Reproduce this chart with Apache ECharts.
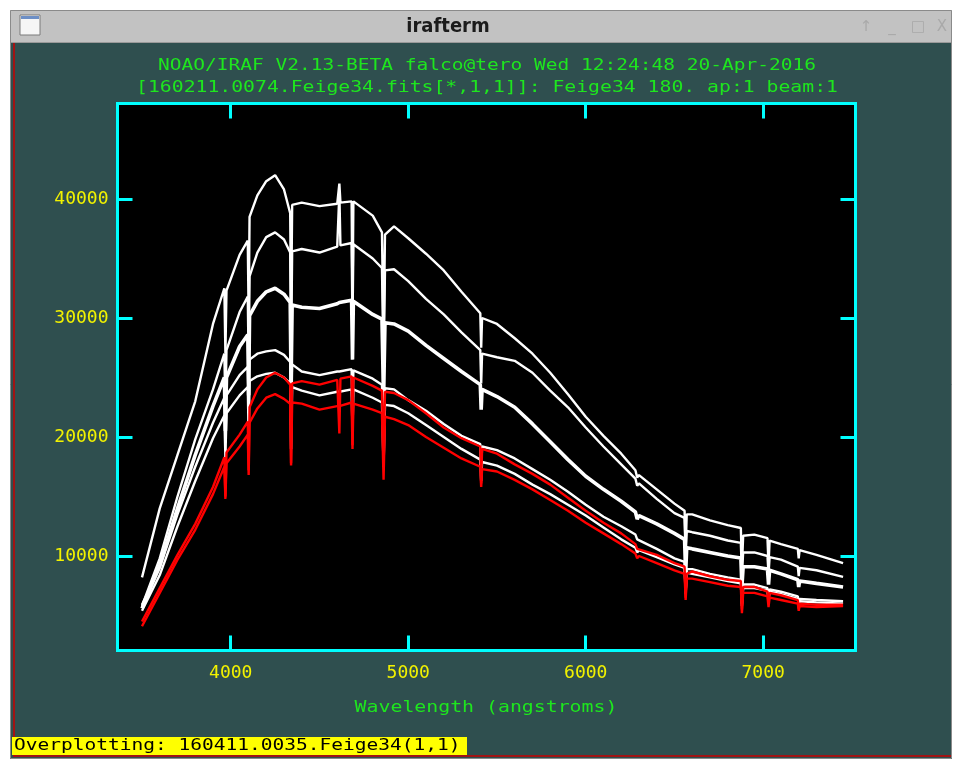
<!DOCTYPE html>
<html><head><meta charset="utf-8">
<script src="https://cdn.jsdelivr.net/npm/echarts@6/dist/echarts.min.js"></script>
<style>html,body{margin:0;padding:0;background:#ffffff}#c{width:956px;height:759px}</style>
</head><body><div id="c"></div>
<script>
// Wavelength grid (angstroms)
const wavelengths = [
3500,3600,3700,3800,3900,3964,3970,3976,4050,4096,
4101,4106,4150,4200,4250,4300,4335,4340,4346,4400,
4500,4600,4612,4618,4681,4686,4691,4800,4852,4861,
4869,4920,5000,5100,5200,5300,5406,5411,5416,5500,
5600,5700,5800,5900,6000,6100,6200,6280,6290,6300,
6400,6500,6557,6563,6569,6600,6700,6800,6874,6880,
6887,6950,7024,7030,7036,7100,7195,7200,7205,7300,
7450];
// White spectra (top to bottom)
const fluxW1 = [
8200,14000,18500,23000,29500,32500,27000,32300,35300,36500,
30000,38500,40300,41500,42000,40800,38800,30000,39500,39700,
39400,39600,41300,39700,39800,31000,39800,38600,37200,28000,
37000,37700,36700,35400,34000,32200,30400,27500,30000,29500,
28300,27000,25400,23600,21700,20100,18600,17200,16600,16800,
15600,14400,13800,10500,13500,13500,13000,12600,12350,9000,
11700,11800,11500,9200,11300,11000,10600,9800,10500,10100,
9400];
const fluxW2 = [
5800,9800,15000,19800,24000,27000,22500,27300,30500,31800,
26000,33500,35500,36800,37200,36600,35500,27000,35600,35800,
35500,36000,40500,36100,36300,29500,36200,35000,34200,26000,
34000,34100,33100,31600,30300,28800,27300,24500,27000,26700,
26400,25400,23900,22500,20800,19200,17700,16500,15900,16100,
14800,13600,13200,10000,12100,12000,11700,11300,11100,8500,
10300,10300,10000,8500,9900,9700,9100,8300,9000,8800,
8250];
const fluxW3 = [
5600,9200,14000,18500,22600,25000,20500,25000,27600,28600,
23500,30200,31400,32200,32500,32000,31300,24500,31100,30900,
30800,31200,31300,31300,31500,26500,31400,30300,29900,23000,
29600,29500,28900,27700,26600,25500,24400,22300,24000,23400,
22500,21100,19600,18100,16700,15600,14600,13700,13100,13400,
12700,11900,11400,8500,10700,10600,10300,10000,9830,7400,
9100,9100,8900,7600,8800,8500,8000,7400,7900,7700,
7400];
const fluxW4 = [
5900,9000,13500,17500,21200,23300,19500,23500,25200,25900,
22000,26500,27000,27200,27300,26900,26300,21000,26100,25500,
25200,25500,25500,25600,25700,22000,25600,24900,24400,19500,
24100,24000,23100,22200,21100,20100,19400,17000,19200,18900,
18200,17300,16400,15400,14300,13300,12500,11800,11400,11500,
10600,9800,9500,6900,8900,8900,8500,8200,8000,6000,
7600,7600,7300,6500,7200,7000,6600,6000,6400,6300,
6200];
const fluxW5 = [
5400,8400,12500,16300,19900,21800,18300,22000,23500,24200,
20000,24700,25100,25300,25400,25000,24500,19000,24200,23900,
23500,23800,23800,23900,24000,20500,24000,23300,22900,17500,
22700,22600,22000,21000,20000,19000,18100,16300,17900,17600,
16900,16000,15200,14300,13400,12400,11400,10700,10300,10500,
9900,9300,9000,6800,8600,8500,8200,7900,7700,5800,
7300,7300,7100,6300,7000,6800,6400,5900,6200,6100,
6000];
// Red (overplotted) spectra
const fluxR1 = [
4500,7300,10100,12700,15800,18300,15000,18700,20200,21300,
17200,22500,24000,25000,25400,25000,24400,17800,24500,24700,
24400,24800,20300,24900,25100,19300,25000,24300,23900,17500,
23800,23700,23100,22000,20800,19900,19200,16100,19000,18600,
17700,16900,16000,14900,13800,12800,11900,11000,10600,10700,
10100,9400,9100,6500,8500,8700,8300,8000,7900,5500,
7400,7400,7000,6000,6900,6700,6300,5600,6000,5900,
5900];
const fluxR2 = [
4100,6900,9700,12200,15200,17500,14800,17800,19200,20200,
16800,21200,22400,23300,23600,23200,22800,17600,22900,22800,
22300,22600,22600,22700,22900,19000,22800,22300,22000,16400,
21700,21500,21000,20000,19100,18200,17500,15800,17300,17100,
16400,15600,14700,13800,12800,11900,11000,10200,9800,10000,
9400,8800,8500,6300,8100,8100,7800,7500,7400,5200,
6900,6900,6600,5700,6500,6300,6000,5400,5800,5700,
5800];

const xTicks = [4000,5000,6000,7000];
const yTicks = [10000,20000,30000,40000];
const windowTitle = 'irafterm';
const titleLine1 = 'NOAO/IRAF V2.13-BETA falco@tero Wed 12:24:48 20-Apr-2016';
const titleLine2 = '[160211.0074.Feige34.fits[*,1,1]]: Feige34 180. ap:1 beam:1';
const xAxisTitle = 'Wavelength (angstroms)';
const statusText = 'Overplotting: 160411.0035.Feige34(1,1)';

const spectra = [
  {name:'W1', flux:fluxW1, color:'#ffffff', width:2.4},
  {name:'W2', flux:fluxW2, color:'#ffffff', width:2.4},
  {name:'W3', flux:fluxW3, color:'#ffffff', width:3.6},
  {name:'W4', flux:fluxW4, color:'#ffffff', width:2.4},
  {name:'W5', flux:fluxW5, color:'#ffffff', width:2.4},
  {name:'R1', flux:fluxR1, color:'#ff0000', width:2.4},
  {name:'R2', flux:fluxR2, color:'#ff0000', width:2.4}
];

const chart = echarts.init(document.getElementById('c'), null, {renderer:'canvas'});
const mono = '"DejaVu Sans Mono", monospace';
const CYAN = '#00ffff';
const tickStyle = (vals) => ({show:true, inside:true, length:15, customValues:vals, lineStyle:{color:CYAN, width:3}});
const XMIN = 3362, XMAX = 7520, YMIN = 2059, YMAX = 48025;
const plain = v => String(Math.round(v));

const option = {
  animation:false,
  backgroundColor:'#2f4f4f',
  grid:{left:117.5, top:103.5, width:738, height:547, show:true, backgroundColor:'#000000', borderColor:CYAN, borderWidth:3, containLabel:false},
  xAxis:[
    {type:'value', position:'bottom', min:XMIN, max:XMAX, axisLine:{show:false}, splitLine:{show:false},
     axisTick:tickStyle(xTicks),
     axisLabel:{show:true, customValues:xTicks, formatter:plain, margin:14, color:'#f2f200', fontFamily:'DejaVu Sans Mono', fontSize:18}},
    {type:'value', position:'top', min:XMIN, max:XMAX, axisLine:{show:false}, splitLine:{show:false},
     axisTick:tickStyle(xTicks), axisLabel:{show:false}}
  ],
  yAxis:[
    {type:'value', position:'left', min:YMIN, max:YMAX, axisLine:{show:false}, splitLine:{show:false},
     axisTick:tickStyle(yTicks),
     axisLabel:{show:true, customValues:yTicks, formatter:plain, margin:9, color:'#f2f200', fontFamily:'DejaVu Sans Mono', fontSize:18}},
    {type:'value', position:'right', min:YMIN, max:YMAX, axisLine:{show:false}, splitLine:{show:false},
     axisTick:tickStyle(yTicks), axisLabel:{show:false}}
  ],
  series: spectra.map(s => ({
    name:s.name, type:'line', xAxisIndex:0, yAxisIndex:0, showSymbol:false, symbol:'none',
    data: wavelengths.map((w,i)=>[w, s.flux[i]]),
    lineStyle:{color:s.color, width:s.width}, itemStyle:{color:s.color}, clip:true, z:3
  })),
  graphic:[
    {type:'rect', shape:{x:0,y:0,width:956,height:10}, style:{fill:'#ffffff'}, silent:true},
    {type:'rect', shape:{x:0,y:0,width:10,height:759}, style:{fill:'#ffffff'}, silent:true},
    {type:'rect', shape:{x:952,y:0,width:4,height:759}, style:{fill:'#ffffff'}, silent:true},
    {type:'rect', shape:{x:10,y:10,width:942,height:33}, style:{fill:'#c2c2c2'}, silent:true},
    {type:'line', shape:{x1:10,y1:42.5,x2:952,y2:42.5}, style:{stroke:'#9a9a9a', lineWidth:1}, silent:true},
    {type:'rect', shape:{x:10.5,y:10.5,width:941,height:748}, style:{fill:null, stroke:'#8a8a8a', lineWidth:1}, silent:true},
    {type:'line', shape:{x1:14,y1:43,x2:14,y2:757}, style:{stroke:'#c80000', lineWidth:1.5}, silent:true},
    {type:'line', shape:{x1:14,y1:756,x2:951,y2:756}, style:{stroke:'#c80000', lineWidth:1.5}, silent:true},
    {type:'rect', shape:{x:20,y:15,width:20,height:20}, style:{fill:'#f6f6f6', stroke:'#7a7a7a', lineWidth:1}, silent:true},
    {type:'rect', shape:{x:21,y:16,width:18,height:3}, style:{fill:'#6d8fc6'}, silent:true},
    {type:'text', x:448, y:27, style:{text:windowTitle, font:'bold 20px "DejaVu Sans Condensed", "DejaVu Sans"', fill:'#1c1c1c', align:'center', verticalAlign:'middle'}, silent:true},
    {type:'text', x:866, y:27, style:{text:'↑', font:'15px "DejaVu Sans"', fill:'#a9a9a9', align:'center', verticalAlign:'middle'}, silent:true},
    {type:'text', x:892, y:27, style:{text:'_', font:'15px "DejaVu Sans"', fill:'#a9a9a9', align:'center', verticalAlign:'middle'}, silent:true},
    {type:'text', x:918, y:27, style:{text:'□', font:'15px "DejaVu Sans"', fill:'#a9a9a9', align:'center', verticalAlign:'middle'}, silent:true},
    {type:'text', x:942, y:27, style:{text:'X', font:'15px "DejaVu Sans"', fill:'#a9a9a9', align:'center', verticalAlign:'middle'}, silent:true},
    {type:'text', x:487, y:66, scaleX:1.22, style:{text:titleLine1, font:'16px '+mono, fill:'#1ee61e', align:'center', verticalAlign:'middle'}, silent:true},
    {type:'text', x:487, y:88, scaleX:1.235, style:{text:titleLine2, font:'16px '+mono, fill:'#1ee61e', align:'center', verticalAlign:'middle'}, silent:true},
    {type:'text', x:486, y:708, scaleX:1.24, style:{text:xAxisTitle, font:'16px '+mono, fill:'#1ee61e', align:'center', verticalAlign:'middle'}, silent:true},
    {type:'rect', shape:{x:12,y:737,width:455,height:18}, style:{fill:'#ffff00'}, silent:true},
    {type:'text', x:14, y:746, scaleX:1.22, style:{text:statusText, font:'16px '+mono, fill:'#000000', align:'left', verticalAlign:'middle'}, silent:true}
  ]
};
chart.setOption(option);
</script>
</body></html>
